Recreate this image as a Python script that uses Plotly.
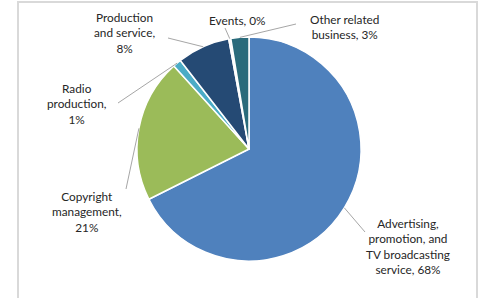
import math
import plotly.graph_objects as go

categories = ["Advertising, promotion, and TV broadcasting service", "Copyright management",
              "Radio production", "Production and service", "Events", "Other related business"]
values = [67.6, 20.7, 1.2, 7.6, 0.3, 2.6]
label_lines = [["Advertising,", "promotion, and", "TV broadcasting", "service, {p}%"],
               ["Copyright", "management,", "{p}%"],
               ["Radio", "production,", "{p}%"],
               ["Production", "and service,", "{p}%"],
               ["Events, {p}%"],
               ["Other related", "business, {p}%"]]
colors = ["#4F81BD", "#9BBB59", "#4BACC6", "#254A74", "#F4F4F4", "#2A6B7B"]

W, H = 486, 298
cx, cy, R = 249, 149, 112

# label text centres (px) and leader line start points (px)
label_pos = [(408, 246), (87, 212), (77, 104), (124, 33), (237, 20), (344, 27)]
leader_start = [(365, 232), (126, 189), (118, 103), (168, 38), (225, 28), (296, 24)]

fig = go.Figure(go.Pie(
    labels=categories, values=values, sort=False, direction="clockwise", rotation=0,
    marker=dict(colors=colors, line=dict(color="white", width=1.5)),
    textinfo="none", hoverinfo="label+percent", showlegend=False,
    domain=dict(x=[(cx - R) / W, (cx + R) / W], y=[(H - cy - R) / H, (H - cy + R) / H]),
))

total = sum(values)
cum = 0
annotations = []
shapes = []
for i, v in enumerate(values):
    mid = (cum + v / 2) / total * 2 * math.pi
    cum += v
    ex = cx + R * math.sin(mid)
    ey = cy - R * math.cos(mid)
    p = round(v / total * 100)
    text = "<br>".join(l.format(p=p) for l in label_lines[i])
    lx, ly = label_pos[i]
    annotations.append(dict(x=lx / W, y=1 - ly / H, xref="paper", yref="paper", text=text,
                            showarrow=False, xanchor="center", yanchor="middle", align="center",
                            font=dict(family="Lato", size=11.8, color="#262626")))
    sx, sy = leader_start[i]
    shapes.append(dict(type="line", xref="paper", yref="paper", x0=sx / W, y0=1 - sy / H,
                       x1=ex / W, y1=1 - ey / H, line=dict(color="#A6A6A6", width=1)))

# frame
shapes.append(dict(type="rect", xref="paper", yref="paper", x0=18 / W, x1=477 / W,
                   y0=-0.05, y1=1 - 2 / H, line=dict(color="#D9D9D9", width=2)))

fig.update_layout(width=W, height=H, margin=dict(l=0, r=0, t=0, b=0),
                  paper_bgcolor="white", plot_bgcolor="white",
                  annotations=annotations, shapes=shapes)
fig.write_html("out.html", config={"displayModeBar": False},
               post_script="document.body.style.margin='0';document.body.style.overflow='hidden';")
